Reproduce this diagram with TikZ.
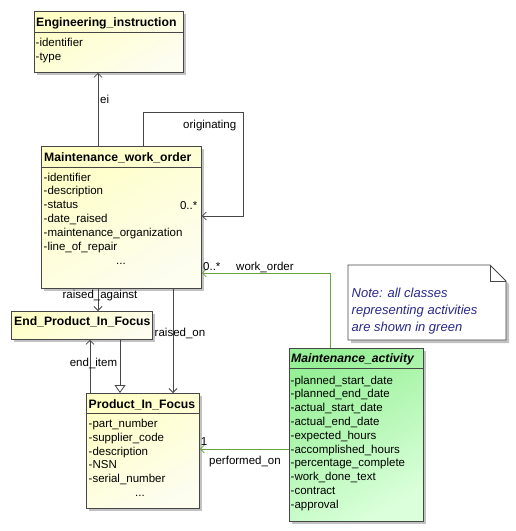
\documentclass[tikz,border=0pt]{standalone}
\usepackage{fontspec}
\setmainfont{Liberation Sans}
\usetikzlibrary{arrows.meta,shadows}

\definecolor{clsline}{RGB}{70,70,70}
\definecolor{clsyellow}{RGB}{255,255,198}
\definecolor{clspale}{RGB}{253,253,240}
\definecolor{actgreen}{RGB}{150,240,150}
\definecolor{actpale}{RGB}{218,255,218}
\definecolor{actline}{RGB}{104,164,64}
\definecolor{notetext}{RGB}{40,40,140}

\begin{document}
\begin{tikzpicture}[x=1pt,y=1pt,yscale=-1,xscale=1,
  boxshadow/.style={drop shadow={shadow xshift=3pt,shadow yshift=-3pt,fill=black!40,opacity=.6}},
  classbox/.style={draw=clsline,line width=0.8pt,anchor=north west,inner sep=0pt,
    top color=clsyellow,bottom color=clspale,shading angle=30,boxshadow},
  actbox/.style={classbox,top color=actgreen,bottom color=actpale,shading angle=30},
  assoc/.style={draw=clsline,line width=0.8pt},
  act/.style={draw=actline,line width=0.8pt},
  nav/.style={-{Straight Barb[length=4pt,width=8pt]}},
  gen/.style={-{Triangle[open,length=8pt,width=11pt,fill=white]}},
  cname/.style={anchor=base west,inner sep=0pt,font=\fontsize{12.2}{14}\selectfont\bfseries},
  attr/.style={anchor=base west,inner sep=0pt,font=\fontsize{11.5}{13.8}\selectfont},
  lbl/.style={inner sep=0pt,font=\fontsize{11.5}{13.8}\selectfont},
  notelbl/.style={anchor=base west,inner sep=0pt,text=notetext,font=\fontsize{13}{17}\selectfont\itshape}]
\path[use as bounding box] (0,0) rectangle (516,531);

%Shape: Class box Engineering_instruction
\node[classbox,minimum width=149,minimum height=61] (ei) at (34,11) {};
\draw[clsline,line width=0.8pt] (ei.west |- 0,32) -- (ei.east |- 0,32);
%Shape: Class box Maintenance_work_order
\node[classbox,minimum width=160,minimum height=142] (mwo) at (41,146) {};
\draw[clsline,line width=0.8pt] (mwo.west |- 0,167) -- (mwo.east |- 0,167);
%Shape: Class box End_Product_In_Focus
\node[classbox,minimum width=141,minimum height=28] (epf) at (11,311) {};
%Shape: Class box Product_In_Focus
\node[classbox,minimum width=113,minimum height=115] (pif) at (86,393) {};
\draw[clsline,line width=0.8pt] (pif.west |- 0,413) -- (pif.east |- 0,413);
%Shape: Class box Maintenance_activity
\node[actbox,minimum width=134,minimum height=173] (ma) at (289,348) {};
\draw[clsline,line width=0.8pt] (ma.west |- 0,368) -- (ma.east |- 0,368);

%Shape: Note
\filldraw[draw=clsline,fill=white,line width=0.8pt,boxshadow] (348,265) -- (490,265) -- (506,281) -- (506,340) -- (348,340) -- cycle;
\draw[clsline,line width=0.8pt] (490,265) -- (490,281) -- (506,281);

% Text Node
\node[cname] (einame) at (36,26) {Engineering\_instruction};
\node[cname] (mwoname) at (44,161.5) {Maintenance\_work\_order};
\node[cname] (epfname) at (14,325.5) {End\_Product\_In\_Focus};
\node[cname] (pifname) at (88.5,408.5) {Product\_In\_Focus};
\node[cname,font=\fontsize{12.2}{14}\selectfont\bfseries\itshape] (maname) at (291,362.5) {Maintenance\_activity};

% Text Node
\foreach \a [count=\i from 0] in {-identifier,-type}
  \node[attr] (eia\i) at (35.5,46.5+13.8*\i) {\a};
\foreach \a [count=\i from 0] in {-identifier,-description,-status,-date\_raised,-maintenance\_organization,-line\_of\_repair}
  \node[attr] (mwoa\i) at (43.5,181+13.8*\i) {\a};
\node[attr,anchor=base] (mwodots) at (121,264) {...};
\foreach \a [count=\i from 0] in {-part\_number,-supplier\_code,-description,-NSN,-serial\_number}
  \node[attr] (pifa\i) at (88.5,427.5+13.8*\i) {\a};
\node[attr,anchor=base] (pifdots) at (140,496.5) {...};
\foreach \a [count=\i from 0] in {-planned\_start\_date,-planned\_end\_date,-actual\_start\_date,-actual\_end\_date,-expected\_hours,-accomplished\_hours,-percentage\_complete,-work\_done\_text,-contract,-approval}
  \node[attr] (maa\i) at (290.5,384+13.8*\i) {\a};

% Text Node
\foreach \a [count=\i from 0] in {Note: all classes,representing activities,are shown in green}
  \node[notelbl] (note\i) at (351.5,297.5+17*\i) {\a};

%Straight Lines ei
\draw[assoc,nav] (mwo.north -| 98,0) -- (ei.south -| 98,0);
%Straight Lines originating
\coordinate (origc) at (243,112);
\draw[assoc,nav] (mwo.north -| 143,0) |- (origc) |- (mwo.east |- 0,216);
%Straight Lines work_order
\draw[act,nav] (ma.north -| 330,0) |- (mwo.east |- 0,273);
%Straight Lines raised_against
\draw[assoc,nav] (mwo.south -| 98,0) -- (epf.north -| 98,0);
%Straight Lines raised_on
\draw[assoc,nav] (mwo.south -| 173,0) -- (pif.north -| 173,0);
%Straight Lines end_item
\draw[assoc,nav] (pif.north -| 90,0) -- (epf.south -| 90,0);
%Straight Lines generalization
\draw[assoc,gen] (epf.south -| 120,0) -- (pif.north -| 120,0);
%Straight Lines performed_on
\draw[act,nav] (ma.west |- 0,449) -- (pif.east |- 0,449);

% Text Node
\node[lbl,anchor=west] (eilbl) at (100,99) {ei};
\node[lbl,anchor=east] (origlbl) at (236.5,126) {originating};
\node[lbl,anchor=east] (origmult) at (197.5,206) {0..*};
\node[lbl,anchor=west] (womult) at (203,267) {0..*};
\node[lbl,anchor=west] (wolbl) at (236,267) {work\_order};
\node[lbl] (ralbl) at (100,296) {raised\_against};
\node[lbl] (rolbl) at (180,333) {raised\_on};
\node[lbl] (eilbl2) at (93.5,363) {end\_item};
\node[lbl] (pomult) at (204,442) {1};
\node[lbl,anchor=west] (polbl) at (209,462) {performed\_on};

\end{tikzpicture}
\end{document}
